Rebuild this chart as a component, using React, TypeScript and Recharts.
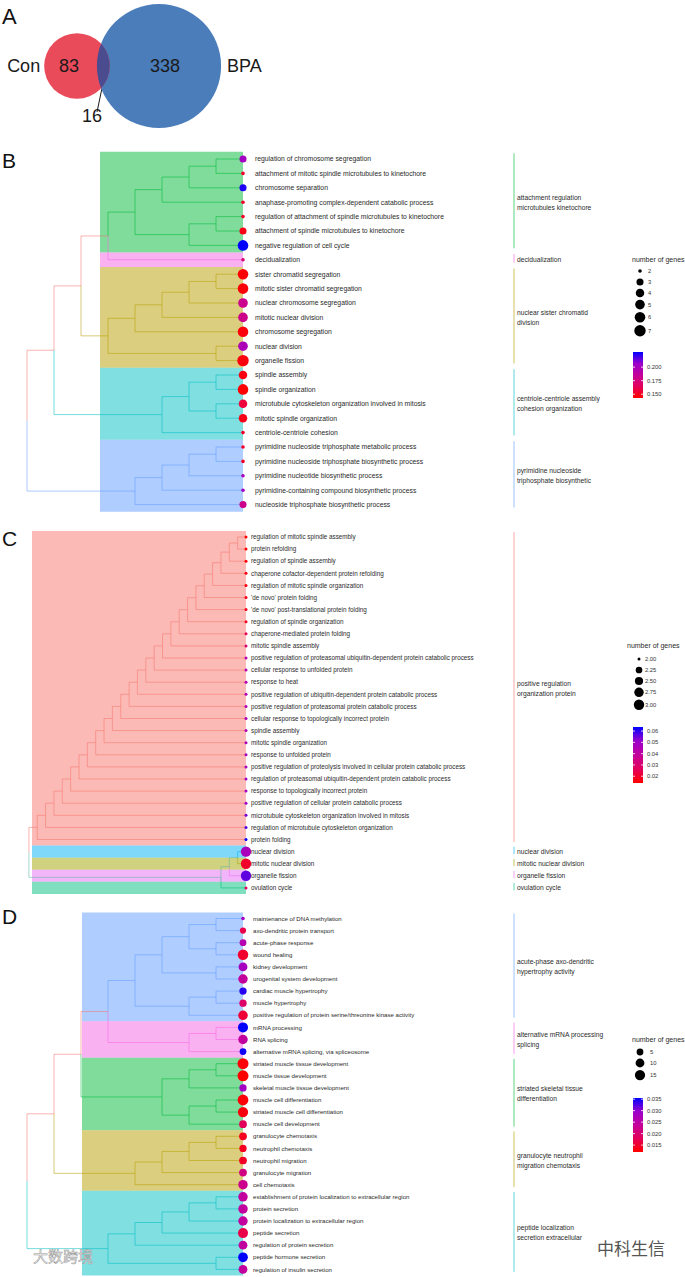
import React from 'react';
import {
  ScatterChart,
  Scatter,
  XAxis,
  YAxis,
  ReferenceArea,
  ReferenceLine,
} from 'recharts';

const FONT = '"Liberation Sans", Arial, Helvetica, sans-serif';
const PAGE_W = 685;
const PAGE_H = 1277;

// ggplot default hue palettes
const HUE6 = { red: '#F8766D', olive: '#B79F00', green: '#00BA38', cyan: '#00BFC4', blue: '#619CFF', pink: '#F564E3' };
const HUE5 = { red: '#F8766D', olive: '#A3A500', green: '#00BF7D', blue: '#00B0F6', pink: '#E76BF3' };
// p.adjust colour ramp, low (red) -> high (blue)
const RAMP = ['#FF0000', '#E3005A', '#C4009B', '#9B00CC', '#0000FF'];

// ---------- A: venn ----------
const vennNames = ['Con', 'BPA'];
const vennOnly = [83, 338];
const vennShared = 16;

// ---------- B ----------
const termsB = [
  'regulation of chromosome segregation',
  'attachment of mitotic spindle microtubules to kinetochore',
  'chromosome separation',
  'anaphase-promoting complex-dependent catabolic process',
  'regulation of attachment of spindle microtubules to kinetochore',
  'attachment of spindle microtubules to kinetochore',
  'negative regulation of cell cycle',
  'decidualization',
  'sister chromatid segregation',
  'mitotic sister chromatid segregation',
  'nuclear chromosome segregation',
  'mitotic nuclear division',
  'chromosome segregation',
  'nuclear division',
  'organelle fission',
  'spindle assembly',
  'spindle organization',
  'microtubule cytoskeleton organization involved in mitosis',
  'mitotic spindle organization',
  'centriole-centriole cohesion',
  'pyrimidine nucleoside triphosphate metabolic process',
  'pyrimidine nucleoside triphosphate biosynthetic process',
  'pyrimidine nucleotide biosynthetic process',
  'pyrimidine-containing compound biosynthetic process',
  'nucleoside triphosphate biosynthetic process',
];
const countsB = [3, 2, 3, 2, 2, 3, 6, 2, 6, 6, 5, 5, 6, 5, 7, 4, 6, 4, 4, 2, 2, 2, 2, 2, 3];
const padjB = [
  0.203, 0.152, 0.224, 0.152, 0.152, 0.148, 0.228, 0.172, 0.145, 0.145, 0.181, 0.18, 0.146,
  0.198, 0.146, 0.147, 0.143, 0.157, 0.148, 0.153, 0.153, 0.153, 0.2, 0.205, 0.18,
];
const mergesB: Merge[] = [
  [0, 1, 1], ['m0', 2, 2], ['m1', 3, 3], [4, 5, 1], ['m3', 6, 2], ['m2', 'm4', 4], ['m5', 7, 5],
  [8, 9, 1], ['m7', 10, 2], ['m8', 11, 3], ['m9', 12, 4], [13, 14, 1], ['m10', 'm11', 5],
  ['m6', 'm12', 6], [15, 16, 1], [17, 18, 1], ['m14', 'm15', 2], ['m16', 19, 3], ['m13', 'm17', 7],
  [20, 21, 1], ['m19', 22, 2], ['m20', 23, 3], ['m21', 24, 4], ['m18', 'm22', 8],
];
const clustersB = [
  { from: 0, to: 6, label: ['attachment regulation', 'microtubules kinetochore'] },
  { from: 7, to: 7, label: ['decidualization'] },
  { from: 8, to: 14, label: ['nuclear sister chromatid', 'division'] },
  { from: 15, to: 19, label: ['centriole-centriole assembly', 'cohesion organization'] },
  { from: 20, to: 24, label: ['pyrimidine nucleoside', 'triphosphate biosynthetic'] },
];
const clusterColorsB = [HUE6.green, HUE6.pink, HUE6.olive, HUE6.cyan, HUE6.blue];
const sizeBreaksB = [2, 3, 4, 5, 6, 7];
const colorTicksB = [0.2, 0.175, 0.15];

// ---------- C ----------
const termsC = [
  'regulation of mitotic spindle assembly',
  'protein refolding',
  'regulation of spindle assembly',
  'chaperone cofactor-dependent protein refolding',
  'regulation of mitotic spindle organization',
  "'de novo' protein folding",
  "'de novo' post-translational protein folding",
  'regulation of spindle organization',
  'chaperone-mediated protein folding',
  'mitotic spindle assembly',
  'positive regulation of proteasomal ubiquitin-dependent protein catabolic process',
  'cellular response to unfolded protein',
  'response to heat',
  'positive regulation of ubiquitin-dependent protein catabolic process',
  'positive regulation of proteasomal protein catabolic process',
  'cellular response to topologically incorrect protein',
  'spindle assembly',
  'mitotic spindle organization',
  'response to unfolded protein',
  'positive regulation of proteolysis involved in cellular protein catabolic process',
  'regulation of proteasomal ubiquitin-dependent protein catabolic process',
  'response to topologically incorrect protein',
  'positive regulation of cellular protein catabolic process',
  'microtubule cytoskeleton organization involved in mitosis',
  'regulation of microtubule cytoskeleton organization',
  'protein folding',
  'nuclear division',
  'mitotic nuclear division',
  'organelle fission',
  'ovulation cycle',
];
const countsC = [2, 2, 2, 2, 2, 2, 2, 2, 2, 2, 2, 2, 2, 2, 2, 2, 2, 2, 2, 2, 2, 2, 2, 2, 2, 2, 3, 3, 3, 2];
const padjC = [
  0.014, 0.015, 0.015, 0.016, 0.016, 0.017, 0.017, 0.018, 0.026, 0.031, 0.043, 0.044, 0.044,
  0.045, 0.045, 0.046, 0.046, 0.047, 0.047, 0.048, 0.048, 0.049, 0.05, 0.054, 0.057, 0.0636,
  0.047, 0.02, 0.056, 0.028,
];
const mergesC: Merge[] = [
  [0, 1, 1], ['m0', 2, 2], ['m1', 3, 3], ['m2', 4, 4], ['m3', 5, 5], ['m4', 6, 6], ['m5', 7, 7],
  ['m6', 8, 8], ['m7', 9, 9], ['m8', 10, 10], ['m9', 11, 11], ['m10', 12, 12], ['m11', 13, 13],
  ['m12', 14, 14], ['m13', 15, 15], ['m14', 16, 16], ['m15', 17, 17], ['m16', 18, 18],
  ['m17', 19, 19], ['m18', 20, 20], ['m19', 21, 21], ['m20', 22, 22], ['m21', 23, 23],
  ['m22', 24, 24], ['m23', 25, 25], [26, 27, 1], ['m25', 28, 2], ['m26', 29, 3], ['m24', 'm27', 26],
];
const clustersC = [
  { from: 0, to: 25, label: ['positive regulation', 'organization protein'] },
  { from: 26, to: 26, label: ['nuclear division'] },
  { from: 27, to: 27, label: ['mitotic nuclear division'] },
  { from: 28, to: 28, label: ['organelle fission'] },
  { from: 29, to: 29, label: ['ovulation cycle'] },
];
const clusterColorsC = [HUE5.red, HUE5.blue, HUE5.olive, HUE5.pink, HUE5.green];
const sizeBreaksC = [2, 2.25, 2.5, 2.75, 3];
const colorTicksC = [0.06, 0.05, 0.04, 0.03, 0.02];

// ---------- D ----------
const termsD = [
  'maintenance of DNA methylation',
  'axo-dendritic protein transport',
  'acute-phase response',
  'wound healing',
  'kidney development',
  'urogenital system development',
  'cardiac muscle hypertrophy',
  'muscle hypertrophy',
  'positive regulation of protein serine/threonine kinase activity',
  'mRNA processing',
  'RNA splicing',
  'alternative mRNA splicing, via spliceosome',
  'striated muscle tissue development',
  'muscle tissue development',
  'skeletal muscle tissue development',
  'muscle cell differentiation',
  'striated muscle cell differentiation',
  'muscle cell development',
  'granulocyte chemotaxis',
  'neutrophil chemotaxis',
  'neutrophil migration',
  'granulocyte migration',
  'cell chemotaxis',
  'establishment of protein localization to extracellular region',
  'protein secretion',
  'protein localization to extracellular region',
  'peptide secretion',
  'regulation of protein secretion',
  'peptide hormone secretion',
  'regulation of insulin secretion',
];
const countsD = [2, 4, 5, 16, 10, 12, 6, 6, 12, 14, 12, 5, 18, 18, 6, 17, 15, 7, 7, 6, 7, 7, 12, 12, 12, 12, 14, 10, 13, 10];
const padjD = [
  0.0285, 0.0167, 0.026, 0.015, 0.028, 0.0238, 0.034, 0.019, 0.0155, 0.0355, 0.024, 0.035,
  0.0125, 0.012, 0.0285, 0.0125, 0.013, 0.018, 0.014, 0.014, 0.0145, 0.0215, 0.0225, 0.024,
  0.024, 0.024, 0.0167, 0.024, 0.0355, 0.024,
];
const mergesD: Merge[] = [
  [0, 1, 1], [2, 3, 1], ['m0', 'm1', 2], [4, 5, 1], ['m2', 'm3', 3], [6, 7, 1], ['m5', 8, 2],
  ['m4', 'm6', 4], [9, 10, 1], ['m8', 11, 2], ['m7', 'm9', 5], [12, 13, 1], ['m11', 14, 2],
  [15, 16, 1], ['m13', 17, 2], ['m12', 'm14', 3], ['m10', 'm15', 6], [18, 19, 1], ['m17', 20, 2],
  ['m18', 21, 3], ['m19', 22, 4], ['m16', 'm20', 7], [23, 24, 1], ['m22', 25, 2], ['m23', 26, 3],
  ['m24', 27, 4], [28, 29, 1], ['m25', 'm26', 5], ['m21', 'm27', 8],
];
const clustersD = [
  { from: 0, to: 8, label: ['acute-phase axo-dendritic', 'hypertrophy activity'] },
  { from: 9, to: 11, label: ['alternative mRNA processing', 'splicing'] },
  { from: 12, to: 17, label: ['striated skeletal tissue', 'differentiation'] },
  { from: 18, to: 22, label: ['granulocyte neutrophil', 'migration chemotaxis'] },
  { from: 23, to: 29, label: ['peptide localization', 'secretion extracellular'] },
];
const clusterColorsD = [HUE6.blue, HUE6.pink, HUE6.green, HUE6.olive, HUE6.cyan];
const sizeBreaksD = [5, 10, 15];
const colorTicksD = [0.035, 0.03, 0.025, 0.02, 0.015];

type NodeRef = number | string;
type Merge = [NodeRef, NodeRef, number];

interface Panel {
  id: string;
  top: number;
  height: number;
  terms: string[];
  counts: number[];
  padj: number[];
  merges: Merge[];
  clusters: { from: number; to: number; label: string[] }[];
  clusterColors: string[];
  otherColor: string;
  leafX: number;
  step: number;
  rectLeft: number;
  row0: number;
  rowStep: number;
  leafFont: number;
  textGap: number;
  radius: [number, number];
  sizeBreaks: number[];
  breakDigits: number;
  colorTicks: number[];
  tickDigits: number;
  legend: { titleX: number; titleY: number; dotX: number; dotY0: number; labelX: number; barTop: number; barH: number };
}

const panels: Panel[] = [
  {
    id: 'B', top: 140, height: 380, terms: termsB, counts: countsB, padj: padjB, merges: mergesB,
    clusters: clustersB, clusterColors: clusterColorsB, otherColor: HUE6.red,
    leafX: 243, step: 27, rectLeft: 100, row0: 19, rowStep: 14.4, leafFont: 6.8, textGap: 12,
    radius: [1.8, 5.7], sizeBreaks: sizeBreaksB, breakDigits: 0, colorTicks: colorTicksB, tickDigits: 3,
    legend: { titleX: 632, titleY: 260, dotX: 640, dotY0: 271, labelX: 648, barTop: 352, barH: 46 },
  },
  {
    id: 'C', top: 522, height: 372, terms: termsC, counts: countsC, padj: padjC, merges: mergesC,
    clusters: clustersC, clusterColors: clusterColorsC, otherColor: '#5BB5A2',
    leafX: 246, step: 8.35, rectLeft: 32, row0: 15, rowStep: 12.1, leafFont: 6.3, textGap: 5,
    radius: [1.5, 5.2], sizeBreaks: sizeBreaksC, breakDigits: 2, colorTicks: colorTicksC, tickDigits: 2,
    legend: { titleX: 627, titleY: 646, dotX: 639, dotY0: 659, labelX: 645, barTop: 727, barH: 56 },
  },
  {
    id: 'D', top: 900, height: 377, terms: termsD, counts: countsD, padj: padjD, merges: mergesD,
    clusters: clustersD, clusterColors: clusterColorsD, otherColor: HUE6.red,
    leafX: 243, step: 27, rectLeft: 82, row0: 18.5, rowStep: 12.1, leafFont: 6.1, textGap: 10,
    radius: [1.8, 5.5], sizeBreaks: sizeBreaksD, breakDigits: 0, colorTicks: colorTicksD, tickDigits: 3,
    legend: { titleX: 632, titleY: 1040, dotX: 640, dotY0: 1052, labelX: 650, barTop: 1098, barH: 54 },
  },
];

function hexToRgb(h: string) {
  const n = parseInt(h.slice(1), 16);
  return [(n >> 16) & 255, (n >> 8) & 255, n & 255];
}

function rampColor(t: number) {
  const tt = Math.max(0, Math.min(1, t)) * (RAMP.length - 1);
  const i = Math.min(Math.floor(tt), RAMP.length - 2);
  const f = tt - i;
  const a = hexToRgb(RAMP[i]);
  const b = hexToRgb(RAMP[i + 1]);
  return `rgb(${a.map((v, j) => Math.round(v + (b[j] - v) * f)).join(',')})`;
}

const extent = (arr: number[]) => [Math.min(...arr), Math.max(...arr)];

function radiusOf(n: number, p: Panel) {
  const [nmin, nmax] = extent(p.counts);
  const [rmin, rmax] = p.radius;
  if (nmax === nmin) return rmax;
  return rmin + (rmax - rmin) * Math.sqrt(Math.max(0, (n - nmin) / (nmax - nmin)));
}

function colorOf(v: number, p: Panel) {
  const [lo, hi] = extent(p.padj);
  return rampColor((v - lo) / (hi - lo));
}

// elbow edges of the dendrogram; node y = mean of its children, leaves at depth 0
function treeEdges(merges: Merge[]) {
  const ys: number[] = [];
  const hs: number[] = [];
  const lv: number[][] = [];
  const get = (r: NodeRef) => {
    if (typeof r === 'number') return { y: r, h: 0, leaves: [r] };
    const k = Number(r.slice(1));
    return { y: ys[k], h: hs[k], leaves: lv[k] };
  };
  const edges: { pts: { x: number; y: number }[]; leaves: number[] }[] = [];
  merges.forEach(([a, b, h], k) => {
    const A = get(a);
    const B = get(b);
    ys[k] = (A.y + B.y) / 2;
    hs[k] = h;
    lv[k] = [...A.leaves, ...B.leaves];
    [A, B].forEach((c) =>
      edges.push({
        pts: [{ x: h, y: ys[k] }, { x: h, y: c.y }, { x: c.h, y: c.y }],
        leaves: c.leaves,
      }),
    );
  });
  return edges;
}

const Nothing = () => <g />;

function VennChart() {
  const k = 3.3; // px per sqrt(gene)
  const centers = [{ x: 77, y: 66 }, { x: 159, y: 66 }];
  const sets = vennNames.map((name, i) => ({
    name,
    only: vennOnly[i],
    total: vennOnly[i] + vennShared,
    x: centers[i].x,
    y: centers[i].y,
  }));
  const txt = { fontFamily: FONT, fontSize: 18, fill: '#1a1a1a' };
  return (
    <ScatterChart width={300} height={135} margin={{ top: 0, right: 0, bottom: 0, left: 0 }}>
      <XAxis type="number" dataKey="x" domain={[0, 300]} allowDataOverflow hide />
      <YAxis type="number" dataKey="y" domain={[0, 135]} allowDataOverflow reversed hide />
      <Scatter
        data={[sets[1]]}
        isAnimationActive={false}
        shape={(p: any) => {
          const r = k * Math.sqrt(p.payload.total);
          return (
            <g>
              <defs>
                <clipPath id="bpaClip">
                  <circle cx={p.cx} cy={p.cy} r={r} />
                </clipPath>
              </defs>
              <circle cx={p.cx} cy={p.cy} r={r} fill="#4A7DBA" />
              <text x={p.cx + 6} y={p.cy} dy="0.36em" textAnchor="middle" {...txt}>{p.payload.only}</text>
              <text x={p.cx + r + 6} y={p.cy} dy="0.36em" textAnchor="start" {...txt}>{p.payload.name}</text>
            </g>
          );
        }}
      />
      <Scatter
        data={[sets[0]]}
        isAnimationActive={false}
        shape={(p: any) => {
          const r = k * Math.sqrt(p.payload.total);
          return (
            <g>
              <circle cx={p.cx} cy={p.cy} r={r} fill="#E94B5B" />
              <circle cx={p.cx} cy={p.cy} r={r} fill="#4B4B8F" clipPath="url(#bpaClip)" />
              <text x={p.cx - 8} y={p.cy} dy="0.36em" textAnchor="middle" {...txt}>{p.payload.only}</text>
              <text x={p.cx - r - 4} y={p.cy} dy="0.36em" textAnchor="end" {...txt}>{p.payload.name}</text>
            </g>
          );
        }}
      />
      <ReferenceLine segment={[{ x: 97, y: 112 }, { x: 106, y: 69 }]} stroke="#1a1a1a" strokeWidth={1} ifOverflow="visible" />
      <Scatter
        data={[{ x: 92, y: 116, n: vennShared }]}
        isAnimationActive={false}
        shape={(p: any) => (
          <text x={p.cx} y={p.cy} dy="0.36em" textAnchor="middle" {...txt}>{p.payload.n}</text>
        )}
      />
    </ScatterChart>
  );
}

function TreePanel({ p }: { p: Panel }) {
  const xDomain = [(p.leafX - PAGE_W) / p.step, p.leafX / p.step];
  const yDomain = [-p.row0 / p.rowStep, (p.height - p.row0) / p.rowStep];
  const pxToDepth = (px: number) => (p.leafX - px) / p.step;
  const edges = treeEdges(p.merges);
  const edgeColor = (leaves: number[]) => {
    const i = p.clusters.findIndex((c) => leaves.every((l) => l >= c.from && l <= c.to));
    return i >= 0 ? p.clusterColors[i] : p.otherColor;
  };
  const leaves = p.terms.map((term, i) => ({ x: 0, y: i, term, count: p.counts[i], padj: p.padj[i] }));
  const labels = p.clusters.map((c) => ({ x: pxToDepth(517), y: (c.from + c.to) / 2, label: c.label }));

  return (
    <ScatterChart width={PAGE_W} height={p.height} margin={{ top: 0, right: 0, bottom: 0, left: 0 }}>
      <XAxis type="number" dataKey="x" domain={xDomain} allowDataOverflow reversed hide />
      <YAxis type="number" dataKey="y" domain={yDomain} allowDataOverflow reversed hide />
      {p.clusters.map((c, i) => (
        <ReferenceArea
          key={`a${i}`}
          x1={pxToDepth(p.rectLeft)}
          x2={0}
          y1={c.from - 0.5}
          y2={c.to + 0.5}
          fill={p.clusterColors[i]}
          fillOpacity={0.5}
          stroke="none"
          ifOverflow="visible"
        />
      ))}
      {edges.map((e, i) => (
        <Scatter
          key={`e${i}`}
          data={e.pts}
          line={{ stroke: edgeColor(e.leaves), strokeWidth: 0.9, strokeOpacity: 0.6 }}
          shape={Nothing}
          isAnimationActive={false}
        />
      ))}
      {p.clusters.map((c, i) => (
        <ReferenceLine
          key={`l${i}`}
          segment={[{ x: pxToDepth(514), y: c.from - 0.4 }, { x: pxToDepth(514), y: c.to + 0.2 }]}
          stroke={p.clusterColors[i]}
          strokeOpacity={0.7}
          strokeWidth={0.9}
          ifOverflow="visible"
        />
      ))}
      <Scatter
        data={leaves}
        isAnimationActive={false}
        shape={(s: any) => (
          <g>
            <circle cx={s.cx} cy={s.cy} r={radiusOf(s.payload.count, p)} fill={colorOf(s.payload.padj, p)} />
            <text
              x={s.cx + p.textGap}
              y={s.cy}
              dy="0.35em"
              fontFamily={FONT}
              fontSize={p.leafFont}
              fill="#2a2a2a"
            >
              {s.payload.term}
            </text>
          </g>
        )}
      />
      <Scatter
        data={labels}
        isAnimationActive={false}
        shape={(s: any) => (
          <g>
            {s.payload.label.map((line: string, j: number) => (
              <text
                key={j}
                x={s.cx}
                y={s.cy + (j - (s.payload.label.length - 1) / 2) * 10}
                dy="0.35em"
                fontFamily={FONT}
                fontSize={6.7}
                fill="#2a2a2a"
              >
                {line}
              </text>
            ))}
          </g>
        )}
      />
    </ScatterChart>
  );
}

function SideLegend({ p }: { p: Panel }) {
  const L = p.legend;
  const radii = p.sizeBreaks.map((n) => radiusOf(n, p));
  const ys: number[] = [];
  radii.forEach((r, i) => {
    ys.push(i === 0 ? L.dotY0 : ys[i - 1] + Math.max(11, radii[i - 1] + r + 2.5));
  });
  const [lo, hi] = extent(p.padj);
  const barX = 633;
  const barW = 10;
  const tickY = (v: number) => L.barTop + L.barH - ((v - lo) / (hi - lo)) * L.barH;
  const gid = `grad${p.id}`;
  return (
    <g fontFamily={FONT}>
      <defs>
        <linearGradient id={gid} x1="0" y1="1" x2="0" y2="0">
          {RAMP.map((c, i) => (
            <stop key={i} offset={i / (RAMP.length - 1)} stopColor={c} />
          ))}
        </linearGradient>
      </defs>
      <text x={L.titleX} y={L.titleY} dy="0.35em" fontSize={7} fill="#2a2a2a">number of genes</text>
      {p.sizeBreaks.map((n, i) => (
        <g key={i}>
          <circle cx={L.dotX} cy={ys[i]} r={radii[i]} fill="#000" />
          <text x={L.labelX} y={ys[i]} dy="0.35em" fontSize={5.8} fill="#333">
            {n.toFixed(p.breakDigits)}
          </text>
        </g>
      ))}
      <rect x={barX} y={L.barTop} width={barW} height={L.barH} fill={`url(#${gid})`} />
      {p.colorTicks.map((v, i) => (
        <g key={i}>
          <line x1={barX} x2={barX + 2} y1={tickY(v)} y2={tickY(v)} stroke="#fff" strokeWidth={0.8} />
          <line x1={barX + barW - 2} x2={barX + barW} y1={tickY(v)} y2={tickY(v)} stroke="#fff" strokeWidth={0.8} />
          <text x={barX + 14} y={tickY(v)} dy="0.35em" fontSize={5.8} fill="#333">
            {v.toFixed(p.tickDigits)}
          </text>
        </g>
      ))}
    </g>
  );
}

function Overlay() {
  const letter = { fontFamily: FONT, fontSize: 21, fill: '#111' };
  return (
    <svg
      width={PAGE_W}
      height={PAGE_H}
      style={{ position: 'absolute', left: 0, top: 0, pointerEvents: 'none' }}
    >
      <text x={2} y={24} {...letter} fontSize={22}>A</text>
      <text x={2} y={168} {...letter}>B</text>
      <text x={2} y={546} {...letter}>C</text>
      <text x={2} y={924} {...letter}>D</text>
      {panels.map((p) => (
        <SideLegend key={p.id} p={p} />
      ))}
      <text x={597} y={1255} fontFamily={'"Noto Sans CJK SC", sans-serif'} fontSize={17} fill="#555">中科生信</text>
      <text
        x={33}
        y={1262}
        fontFamily={'"Noto Sans CJK SC", sans-serif'}
        fontSize={15}
        fill="#f2f2f2"
        stroke="#9a9a9a"
        strokeWidth={0.5}
      >
        大数跨境
      </text>
    </svg>
  );
}

export default function App() {
  return (
    <div
      style={{
        position: 'absolute',
        left: 0,
        top: 0,
        width: PAGE_W,
        height: PAGE_H,
        background: '#fff',
        overflow: 'hidden',
      }}
    >
      <div style={{ position: 'absolute', left: 0, top: 0 }}>
        <VennChart />
      </div>
      {panels.map((p) => (
        <div key={p.id} style={{ position: 'absolute', left: 0, top: p.top }}>
          <TreePanel p={p} />
        </div>
      ))}
      <Overlay />
    </div>
  );
}
